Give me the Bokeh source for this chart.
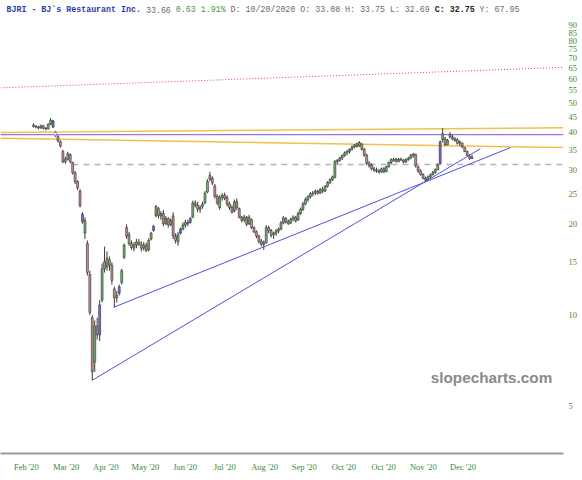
from bokeh.plotting import figure
from bokeh.models import Range1d, FixedTicker, Label, ColumnDataSource
from bokeh.embed import file_html
from bokeh.resources import INLINE
import numpy as np

# ---------------- data (daily OHLC, BJRI) ----------------
opens = [
    42.2, 41.8, 41.6, 41.3, 42.0, 41.2, 41.0, 42.5, 43.6, 40.0,
    38.8, 37.2, 34.6, 32.0, 32.6, 33.8, 31.8, 29.4, 27.5, 25.6,
    21.5, 18.6, 17.2, 13.6, 9.8, 7.0, 9.2, 8.6, 11.2, 14.2,
    15.4, 14.6, 14.6, 12.2, 11.4, 11.8, 12.8, 15.5, 19.4, 18.4,
    17.2, 16.6, 17.0, 17.4, 17.1, 16.6, 17.0, 16.4, 17.8, 19.0,
    21.2, 22.4, 21.2, 21.6, 20.0, 20.8, 19.8, 21.2, 18.2, 17.4,
    18.6, 19.2, 19.8, 20.2, 20.2, 21.0, 23.4, 23.0, 22.3, 22.8,
    23.4, 25.4, 28.8, 28.2, 26.6, 24.6, 22.6, 24.4, 24.8, 24.4,
    23.2, 22.6, 22.0, 23.6, 22.4, 21.0, 20.6, 21.0, 20.0, 20.6,
    19.4, 18.8, 18.2, 17.5, 17.1, 17.3, 19.4, 19.0, 18.4, 18.6,
    18.9, 19.2, 20.1, 20.8, 20.3, 20.1, 20.7, 21.0, 20.6, 21.6,
    22.3, 23.2, 24.0, 24.5, 25.1, 25.2, 25.6, 25.2, 25.9, 25.6,
    26.5, 27.3, 27.9, 28.4, 32.0, 32.3, 32.9, 33.5, 34.2, 34.6,
    35.1, 35.8, 36.6, 36.0, 36.6, 35.2, 33.6, 31.6, 31.2, 30.3,
    30.0, 29.8, 29.6, 30.3, 29.7, 30.8, 31.8, 32.5, 32.6, 32.0,
    32.6, 32.4, 31.9, 32.5, 32.9, 33.6, 33.8, 30.8, 29.8, 29.0,
    28.2, 27.8, 28.5, 29.0, 29.5, 30.1, 31.6, 37.8, 38.0, 36.4,
    39.4, 38.6, 38.0, 37.8, 36.8, 36.8, 35.6, 34.6, 33.4, 33.08,
]
highs = [
    42.8, 42.3, 42.0, 42.4, 42.3, 41.6, 42.8, 44.6, 43.9, 40.3,
    39.0, 37.6, 35.0, 33.2, 34.5, 34.0, 32.0, 29.8, 27.8, 26.0,
    21.8, 21.0, 17.6, 14.0, 10.0, 9.6, 9.8, 11.2, 14.8, 16.8,
    16.2, 15.6, 14.9, 12.4, 12.0, 12.6, 14.2, 17.2, 19.9, 18.8,
    17.6, 17.4, 17.8, 17.8, 17.5, 17.4, 17.3, 17.9, 18.8, 19.8,
    23.0, 22.7, 22.0, 22.2, 21.2, 21.0, 20.8, 21.8, 18.6, 18.8,
    19.4, 20.2, 20.6, 20.6, 21.0, 23.8, 23.9, 23.6, 23.0, 23.6,
    25.6, 28.0, 29.6, 28.6, 27.0, 25.0, 24.8, 25.2, 25.3, 24.8,
    23.6, 23.0, 24.0, 24.2, 22.6, 21.2, 21.4, 21.2, 21.4, 20.8,
    19.6, 19.0, 18.4, 17.8, 17.6, 19.8, 19.7, 19.2, 18.8, 19.2,
    19.4, 20.4, 21.2, 21.0, 20.6, 20.9, 21.3, 21.2, 21.9, 22.6,
    23.6, 24.4, 24.8, 25.4, 25.6, 25.9, 25.8, 26.2, 26.4, 26.8,
    27.6, 28.2, 28.8, 32.4, 32.6, 33.2, 33.8, 34.6, 35.0, 35.4,
    36.2, 36.6, 37.0, 37.4, 36.8, 35.5, 34.0, 32.2, 31.6, 30.8,
    30.6, 30.3, 30.6, 30.7, 31.0, 32.0, 32.8, 33.0, 32.9, 32.9,
    33.0, 32.6, 32.8, 33.2, 33.9, 34.2, 34.0, 31.0, 30.2, 29.3,
    28.6, 28.8, 29.2, 29.8, 30.4, 31.6, 37.6, 41.2, 38.6, 38.0,
    40.0, 39.2, 38.6, 38.2, 37.6, 37.0, 35.8, 34.8, 33.8, 33.75,
]
lows = [
    41.4, 41.2, 40.9, 41.1, 40.9, 40.6, 40.9, 42.2, 41.3, 38.6,
    37.0, 35.6, 31.6, 31.5, 32.3, 31.6, 29.0, 27.0, 25.8, 22.6,
    20.0, 17.8, 13.5, 10.0, 6.1, 6.5, 8.3, 8.2, 11.0, 13.8,
    14.0, 14.0, 12.6, 10.6, 11.0, 11.6, 12.6, 15.3, 17.8, 16.9,
    16.4, 16.2, 16.6, 16.9, 16.2, 16.3, 16.1, 16.2, 17.6, 18.8,
    21.0, 20.8, 20.6, 19.6, 19.8, 19.4, 19.6, 17.8, 17.2, 16.9,
    18.4, 19.0, 19.4, 19.6, 20.0, 20.9, 22.6, 21.8, 21.7, 22.4,
    23.2, 25.2, 27.6, 26.8, 24.2, 23.0, 22.2, 23.8, 23.9, 22.8,
    22.2, 21.6, 21.8, 22.2, 20.8, 20.2, 20.2, 19.6, 19.8, 19.2,
    18.6, 17.9, 17.2, 16.8, 16.4, 17.2, 18.6, 18.0, 17.8, 18.2,
    18.6, 19.0, 19.9, 20.0, 19.8, 19.9, 20.4, 20.2, 20.4, 21.4,
    22.0, 23.0, 23.6, 24.2, 24.6, 24.8, 24.9, 25.0, 25.2, 25.4,
    26.3, 27.0, 27.6, 28.2, 31.4, 32.0, 32.4, 33.2, 33.6, 34.0,
    34.8, 35.4, 35.6, 35.8, 34.8, 33.2, 31.2, 30.6, 30.0, 29.6,
    29.4, 29.2, 29.4, 29.3, 29.5, 30.6, 31.4, 32.0, 31.8, 31.9,
    32.2, 31.6, 31.7, 32.2, 32.6, 33.0, 30.6, 29.4, 28.8, 28.0,
    27.4, 27.6, 28.2, 28.8, 29.2, 30.0, 31.4, 37.0, 36.0, 36.2,
    38.2, 37.6, 37.2, 36.4, 36.0, 35.4, 34.4, 33.4, 32.4, 32.69,
]
closes = [
    41.8, 41.6, 41.3, 42.0, 41.2, 41.0, 42.5, 43.8, 41.6, 39.0,
    37.4, 36.0, 32.0, 32.6, 34.0, 32.0, 29.4, 27.5, 26.2, 22.9,
    20.3, 20.5, 13.8, 10.2, 6.5, 9.2, 8.6, 10.8, 14.2, 15.0,
    14.4, 15.2, 13.0, 11.4, 11.6, 12.4, 14.0, 17.0, 18.2, 17.2,
    16.7, 17.0, 17.4, 17.1, 16.6, 17.0, 16.3, 17.6, 18.6, 19.6,
    22.8, 21.2, 21.6, 20.0, 20.8, 19.8, 20.5, 18.2, 17.6, 18.4,
    19.2, 19.8, 20.2, 20.0, 20.8, 23.4, 23.0, 22.3, 22.6, 23.2,
    25.2, 27.6, 28.0, 27.2, 24.6, 23.4, 24.4, 24.8, 24.2, 23.2,
    22.6, 21.8, 23.6, 22.6, 21.0, 20.5, 21.0, 19.9, 21.0, 19.4,
    18.8, 18.2, 17.5, 17.1, 17.3, 19.4, 19.0, 18.3, 18.6, 18.9,
    19.2, 20.1, 20.9, 20.3, 20.0, 20.7, 21.0, 20.4, 21.6, 22.3,
    23.2, 24.0, 24.5, 25.1, 25.2, 25.6, 25.2, 25.9, 25.6, 26.5,
    27.3, 27.9, 28.5, 32.0, 32.3, 32.9, 33.5, 34.2, 34.6, 35.1,
    35.8, 36.2, 35.9, 37.0, 35.2, 33.6, 31.6, 31.0, 30.3, 30.0,
    29.8, 29.6, 30.3, 29.6, 30.8, 31.8, 32.5, 32.3, 32.0, 32.6,
    32.4, 31.9, 32.5, 32.9, 33.6, 33.9, 31.0, 29.8, 29.0, 28.2,
    27.8, 28.5, 29.0, 29.5, 30.1, 31.3, 37.2, 39.6, 36.4, 37.6,
    38.6, 38.0, 37.6, 36.8, 37.2, 35.8, 34.6, 33.6, 32.8, 32.75,
]
blue_bars = [8, 20, 27, 35, 49, 60, 64, 166]
hollow_bars = [9]

x_labels = ["Feb '20", "Mar '20", "Apr '20", "May '20", "Jun '20", "Jul '20",
            "Aug '20", "Sep '20", "Oct '20", "Oct '20", "Nov '20", "Dec '20"]
x_label_first = -2.9      # bar index of first label
x_label_step = 16.2       # bars between labels
y_ticks = [5, 10, 15, 20, 25, 30, 35, 40, 45, 50, 55, 60, 65, 70, 75, 80, 85, 90]

# drawn lines: ([bar index start, end], [price start, end])
red_dotted = ([-13.5, 216.3], [56.0, 65.4])
orange_upper = ([-13.5, 216.3], [39.9, 41.4])
orange_lower = ([-13.5, 216.3], [38.2, 35.6])
purple_level = ([-13.5, 216.3], [39.3, 39.3])
gray_dashed = ([15.9, 216.3], [31.3, 31.3])
blue_trend_1 = ([24, 182.4], [6.1, 35.3])
blue_trend_2 = ([32.65, 194.7], [10.6, 35.6])

header = [
    ("BJRI - BJ`s Restaurant Inc.", "#2b3da6", "bold"),
    (" 33.66", "#6a6a6a", "normal"),
    (" 0.63 1.91%", "#3c9a3c", "normal"),
    (" D: 10/20/2020 O: 33.08 H: 33.75 L: 32.69", "#6a6a6a", "normal"),
    (" C: 32.75", "#222222", "bold"),
    (" Y: 67.95", "#6a6a6a", "normal"),
]

# ---------------- figure ----------------
FRAME_W, FRAME_H = 563, 453
p = figure(frame_width=FRAME_W, frame_height=FRAME_H,
           x_range=Range1d(-13.47, 216.33), y_range=Range1d(3.50, 108.6),
           y_axis_type="log", y_axis_location="right", output_backend="svg",
           toolbar_location=None, min_border_left=0, min_border_top=0,
           min_border_right=19, min_border_bottom=27)
p.xgrid.visible = False
p.ygrid.visible = False
p.outline_line_color = None
p.background_fill_color = "white"

green_txt = "#3a8a3a"
ya = p.yaxis[0]
ya.ticker = FixedTicker(ticks=y_ticks, minor_ticks=[])
ya.major_label_overrides = {t: str(t) for t in y_ticks}
ya.axis_line_color = None
ya.major_tick_line_color = None
ya.minor_tick_line_color = None
ya.major_tick_out = 0
ya.minor_tick_out = 0
ya.major_tick_in = 0
ya.major_label_text_font = "Liberation Serif"
ya.major_label_text_font_size = "8.5px"
ya.major_label_text_color = green_txt
ya.major_label_standoff = 5

xa = p.xaxis[0]
xt = [x_label_first + k * x_label_step for k in range(len(x_labels))]
xa.ticker = FixedTicker(ticks=xt, minor_ticks=[])
xa.major_label_overrides = {t: lab for t, lab in zip(xt, x_labels)}
xa.axis_line_color = "#9a9a9a"
xa.axis_line_width = 2
xa.major_tick_line_color = None
xa.minor_tick_line_color = None
xa.major_tick_out = 0
xa.minor_tick_out = 0
xa.major_tick_in = 0
xa.major_label_text_font = "Liberation Serif"
xa.major_label_text_font_size = "8.5px"
xa.major_label_text_color = green_txt
xa.major_label_standoff = 8

# reference lines
p.line(*red_dotted, line_color="#e04040", line_width=1, line_dash="1 2")
p.line(*orange_upper, line_color="#f2c14e", line_width=1.5)
p.line(*orange_lower, line_color="#f2c14e", line_width=1.5)
p.line(*purple_level, line_color="#a070e0", line_width=1.3)
p.line(*gray_dashed, line_color="#b5b5b5", line_width=1.5, line_dash="6 5")

# candles
o = np.array(opens); h = np.array(highs); l = np.array(lows); c = np.array(closes)
idx = np.arange(len(o))
fill = []
edge = []
for i in idx:
    if i in hollow_bars:
        fill.append("white"); edge.append("#8a5ab8")
    elif i in blue_bars:
        fill.append("#6f6fe6"); edge.append("#333333")
    elif c[i] >= o[i]:
        fill.append("#6cb86c"); edge.append("#333333")
    else:
        fill.append("#cc8c8c"); edge.append("#333333")
src = ColumnDataSource(dict(x=idx, top=np.maximum(o, c), bottom=np.minimum(o, c),
                            high=h, low=l, fill=fill, edge=edge))
p.segment(x0="x", y0="low", x1="x", y1="high", source=src, line_color="#3a3a3a", line_width=1)
p.vbar(x="x", top="top", bottom="bottom", width=0.8, fill_color="fill",
       line_color="edge", line_width=0.6, source=src)

# trend lines
p.line(*blue_trend_1, line_color="#5050e0", line_width=1)
p.line(*blue_trend_2, line_color="#5050e0", line_width=1)

# header
font_px = 8.3
char_w = 0.6 * font_px
pos = 0
for txt, col, wt in header:
    lead = len(txt) - len(txt.lstrip(" "))
    p.add_layout(Label(x=6 + (pos + lead) * char_w, y=FRAME_H - 9, x_units="screen", y_units="screen",
                       text=txt.strip(), text_font="Liberation Mono", text_font_size=f"{font_px}px",
                       text_color=col, text_font_style=wt, text_baseline="middle"))
    pos += len(txt)

# watermark
p.add_layout(Label(x=491, y=FRAME_H - 377, x_units="screen", y_units="screen",
                   text="slopecharts.com", text_font="Liberation Sans", text_font_size="15.3px",
                   text_font_style="bold", text_color="#8a8a8a", text_align="center",
                   text_baseline="middle"))

open("out.html", "w").write(file_html(p, INLINE))
